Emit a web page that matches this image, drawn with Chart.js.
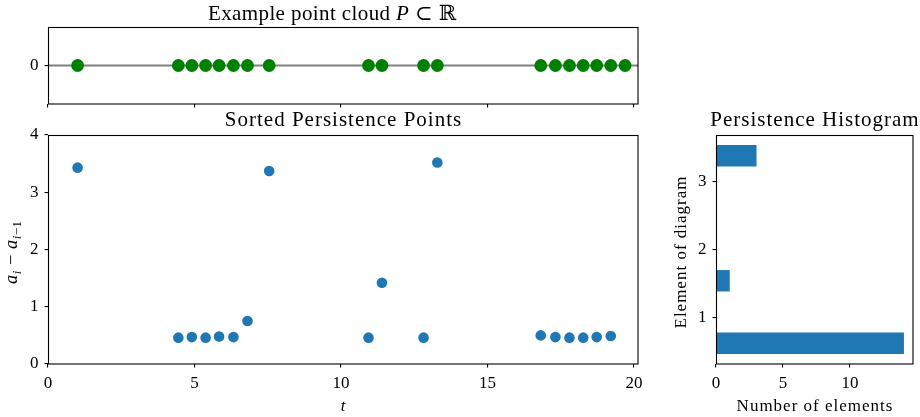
<!DOCTYPE html>
<html>
<head>
<meta charset="utf-8">
<script src="https://cdn.jsdelivr.net/npm/chart.js@4.4.1/dist/chart.umd.min.js"></script>
<style>
  html, body { margin: 0; padding: 0; background: #fff; }
  #fig { position: relative; width: 920px; height: 417px; overflow: hidden; }
  #fig canvas { position: absolute; left: 0; top: 0; }
</style>
</head>
<body>
<div id="fig">
  <canvas id="cloud" width="920" height="417"></canvas>
  <canvas id="gaps" width="920" height="417"></canvas>
  <canvas id="hist" width="920" height="417"></canvas>
</div>
<script>
// Sorted point cloud on the real line
const cloudPoints = [1.01, 4.45, 4.91, 5.38, 5.84, 6.33, 6.81, 7.55, 10.94, 11.40,
                     12.82, 13.29, 16.82, 17.32, 17.80, 18.27, 18.73, 19.21, 19.70];
// Position t of each persistence point and its gap a_i - a_{i-1}
const gapPositions = [1.01, 4.45, 4.91, 5.38, 5.84, 6.33, 6.81, 7.55, 10.94, 11.40,
                      12.82, 13.29, 16.82, 17.32, 17.80, 18.27, 18.73, 19.21];
const gapValues = [3.43, 0.46, 0.47, 0.46, 0.48, 0.47, 0.75, 3.37, 0.46, 1.42,
                   0.46, 3.52, 0.50, 0.47, 0.46, 0.46, 0.47, 0.49];
// Histogram of the gaps (10 bins)
const binEdges = [0.46, 0.77, 1.07, 1.38, 1.69, 2.00, 2.30, 2.61, 2.92, 3.22, 3.53];
const binCounts = [14, 0, 0, 1, 0, 0, 0, 0, 0, 3];

// Tick labels
const tTicks = [0, 5, 10, 15, 20];
const cloudTicks = [0];
const gapTicks = [0, 1, 2, 3, 4];
const countTicks = [0, 5, 10];
const elementTicks = [1, 2, 3];

// Axis ranges
const T_MIN = 0, T_MAX = 20.14;
const CLOUD_MIN = -1, CLOUD_MAX = 1;
const GAP_MIN = 0, GAP_MAX = 4;
const COUNT_MIN = 0, COUNT_MAX = 14.7;
const ELEM_MIN = 0.31, ELEM_MAX = 3.68;

const SERIF = '"Liberation Serif", "DejaVu Serif", serif';
const BLUE = '#1f77b4';
const TICK_SIZE = 17;
const TITLE_SIZE = 21;

Chart.defaults.font.family = SERIF;
Chart.defaults.font.size = TICK_SIZE;
Chart.defaults.color = '#000';
Chart.defaults.animation = false;

function scale(min, max, tickValues, fit, showLabels) {
  return {
    type: 'linear', min, max, offset: false,
    afterBuildTicks: s => { s.ticks = tickValues.map(v => ({ value: v })); },
    afterFit: fit,
    border: { display: false },
    grid: { offset: false, drawOnChartArea: false, drawTicks: true, tickLength: 3.5,
            tickColor: '#000', tickWidth: 1.1, lineWidth: 1.1 },
    ticks: { color: '#000', padding: 6, font: { size: TICK_SIZE },
             callback: v => showLabels ? String(v) : '' }
  };
}

// draw a line of text made of runs (plain / italic / subscript), letter-spaced
function runFont(r, size) {
  const sz = r.sub ? size * 0.7 : size;
  return (r.it ? 'italic ' : '') + sz + 'px ' + SERIF;
}
function runWidth(ctx, r, size, sp) {
  ctx.font = runFont(r, size);
  let w = 0;
  for (const ch of r.t) w += ctx.measureText(ch).width + sp;
  return w;
}
function drawRuns(ctx, runs, x, y, size, sp) {
  let total = 0;
  runs.forEach(r => { total += runWidth(ctx, r, size, sp); });
  total -= sp;
  let cx = x - total / 2;
  ctx.textAlign = 'left';
  ctx.textBaseline = 'alphabetic';
  ctx.fillStyle = '#000';
  runs.forEach(r => {
    ctx.font = runFont(r, size);
    for (const ch of r.t) {
      ctx.fillText(ch, cx, y + (r.sub ? size * 0.24 : 0));
      cx += ctx.measureText(ch).width + sp;
    }
  });
}

function decorations(cfg) {
  return {
    id: 'decor',
    afterDraw(chart) {
      const ctx = chart.ctx, a = chart.chartArea;
      const cx = (a.left + a.right) / 2, cy = (a.top + a.bottom) / 2;
      ctx.save();
      // axes frame
      ctx.strokeStyle = '#000';
      ctx.lineWidth = 1.1;
      ctx.strokeRect(Math.round(a.left) + 0.5, Math.round(a.top) + 0.5,
                     Math.round(a.right - a.left) - 0.5, Math.round(a.bottom - a.top) - 0.5);
      if (cfg.title) drawRuns(ctx, cfg.title, cx + (cfg.titleShift || 0), a.top - cfg.titleGap, TITLE_SIZE,
                              cfg.titleSp === undefined ? 1 : cfg.titleSp);
      if (cfg.xLabel) drawRuns(ctx, cfg.xLabel, cx, a.bottom + 47, TICK_SIZE, 1);
      if (cfg.yLabel) {
        ctx.translate(cfg.yLabelX, cy + (cfg.yLabelShift || 0));
        ctx.rotate(-Math.PI / 2);
        drawRuns(ctx, cfg.yLabel, 0, 0, cfg.yLabelSize || TICK_SIZE, cfg.yLabelSp === undefined ? 1 : cfg.yLabelSp);
      }
      ctx.restore();
    }
  };
}

const base = { responsive: false, devicePixelRatio: 1, animation: false,
               plugins: { legend: { display: false }, tooltip: { enabled: false }, title: { display: false } },
               events: [] };

// Top panel: the point cloud on the line y = 0
new Chart(document.getElementById('cloud'), {
  type: 'scatter',
  data: {
    datasets: [
      { type: 'scatter', data: cloudPoints.map(x => ({ x, y: 0 })), order: 1,
        pointRadius: 6.4, pointBackgroundColor: '#008000', pointBorderWidth: 0 },
      { type: 'line', data: [{ x: T_MIN, y: 0 }, { x: T_MAX, y: 0 }], order: 2,
        borderColor: '#808080', borderWidth: 2, pointRadius: 0 }
    ]
  },
  options: Object.assign({}, base, {
    layout: { padding: { left: 0, top: 27, right: 282, bottom: 303 } },
    scales: {
      x: scale(T_MIN, T_MAX, tTicks, s => { s.height = 10; }, false),
      y: scale(CLOUD_MIN, CLOUD_MAX, cloudTicks, s => { s.width = 48; }, true)
    }
  }),
  plugins: [decorations({
    title: [{ t: 'Example point cloud ' }, { t: 'P', it: true }, { t: ' \u2282 \u211D' }],
    titleGap: 7, titleShift: -11, titleSp: 0.4
  })]
});

// Main panel: gap between consecutive sorted points
new Chart(document.getElementById('gaps'), {
  type: 'scatter',
  data: {
    datasets: [{ data: gapPositions.map((x, i) => ({ x, y: gapValues[i] })),
                 pointRadius: 5.3, pointBackgroundColor: BLUE, pointBorderWidth: 0 }]
  },
  options: Object.assign({}, base, {
    layout: { padding: { left: 0, top: 135, right: 282, bottom: 0 } },
    scales: {
      x: scale(T_MIN, T_MAX, tTicks, s => { s.height = 53; }, true),
      y: scale(GAP_MIN, GAP_MAX, gapTicks, s => { s.width = 48; }, true)
    }
  }),
  plugins: [decorations({
    title: [{ t: 'Sorted Persistence Points' }], titleGap: 9,
    xLabel: [{ t: 't', it: true }],
    yLabel: [{ t: 'a', it: true }, { t: 'i', it: true, sub: true }, { t: ' \u2212 ' },
             { t: 'a', it: true }, { t: 'i', it: true, sub: true }, { t: '\u22121', sub: true }],
    yLabelX: 17, yLabelShift: 3, yLabelSize: 18.5, yLabelSp: 0.5
  })]
});

// Right panel: horizontal histogram of the gaps
const binCenters = binCounts.map((c, i) => (binEdges[i] + binEdges[i + 1]) / 2);
new Chart(document.getElementById('hist'), {
  type: 'bar',
  data: {
    datasets: [{ data: binCounts.map((c, i) => ({ x: c, y: binCenters[i] })),
                 backgroundColor: BLUE, borderWidth: 0,
                 barPercentage: 1, categoryPercentage: 1 }]
  },
  options: Object.assign({}, base, {
    indexAxis: 'y',
    layout: { padding: { left: 660, top: 135, right: 7, bottom: 0 } },
    scales: {
      x: scale(COUNT_MIN, COUNT_MAX, countTicks, s => { s.height = 53; }, true),
      y: scale(ELEM_MIN, ELEM_MAX, elementTicks, s => { s.width = 56; }, true)
    }
  }),
  plugins: [decorations({
    title: [{ t: 'Persistence Histogram' }], titleGap: 9,
    xLabel: [{ t: 'Number of elements' }],
    yLabel: [{ t: 'Element of diagram' }],
    yLabelX: 686, yLabelShift: 3
  })]
});
</script>
</body>
</html>
